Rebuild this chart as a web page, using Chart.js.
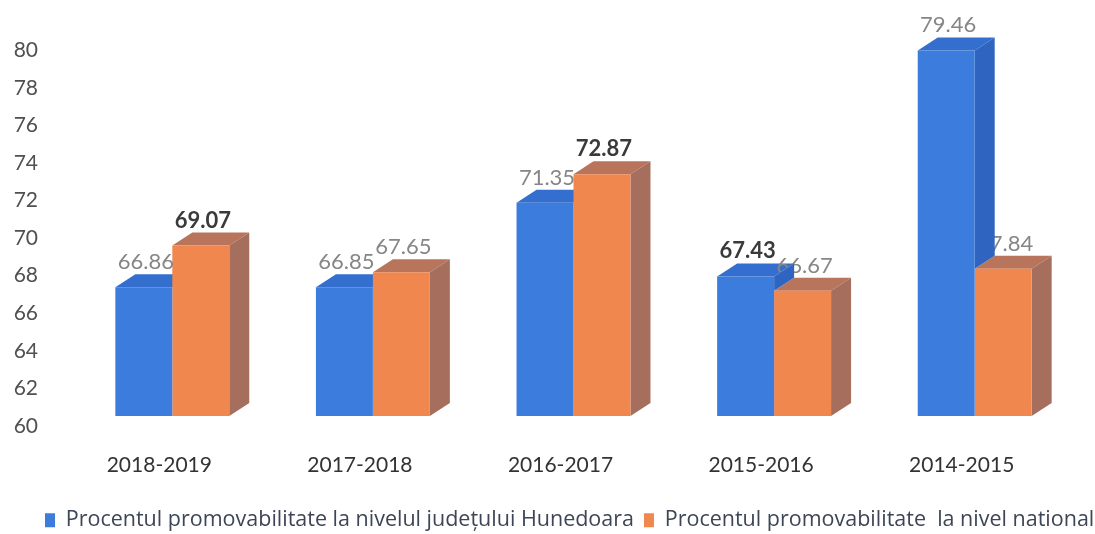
<!DOCTYPE html>
<html>
<head>
<meta charset="utf-8">
<script src="https://cdn.jsdelivr.net/npm/chart.js@4.4.1/dist/chart.umd.min.js"></script>
<style>
  html, body { margin: 0; padding: 0; background: #ffffff; }
  #wrap { width: 1095px; height: 534px; position: relative; }
</style>
</head>
<body>
<div id="wrap"><canvas id="c" width="1095" height="534"></canvas></div>
<script>
const categories = ['2018-2019', '2017-2018', '2016-2017', '2015-2016', '2014-2015'];
const judetValues = [66.86, 66.85, 71.35, 67.43, 79.46];
const nationalValues = [69.07, 67.65, 72.87, 66.67, 67.84];
const seriesNames = [
  'Procentul promovabilitate la nivelul județului Hunedoara',
  'Procentul promovabilitate  la nivel national'
];
const yMin = 60;
const yMax = 80;
const yStep = 2;

const FONT = 'Lato, "Open Sans", sans-serif';
const LEGEND_FONT = '"Open Sans", Lato, sans-serif';
const LEGEND_PAD = 10;
const DEPTH_X = 20, DEPTH_Y = 13;
const faceColors = [
  { front: '#3b7cdc', top: '#346fcf', side: '#2f64c0' },
  { front: '#f0874f', top: '#b9745c', side: '#a66f5d' }
];
const boldLabels = [[false, false, false, true, false], [true, false, true, false, false]];

function barGeom(el) {
  const { x, y, width } = el.getProps(['x', 'y', 'width'], true);
  return { l: x - width / 2, r: x + width / 2, x, y };
}
function poly(ctx, pts, color) {
  ctx.fillStyle = color;
  ctx.beginPath();
  ctx.moveTo(pts[0][0], pts[0][1]);
  for (let k = 1; k < pts.length; k++) ctx.lineTo(pts[k][0], pts[k][1]);
  ctx.closePath();
  ctx.fill();
}
function drawLabel(ctx, chart, d, i) {
  const el = chart.getDatasetMeta(d).data[i];
  const { x, y } = el.getProps(['x', 'y'], true);
  const bold = boldLabels[d][i];
  ctx.font = (bold ? 'bold ' : '') + '22px ' + FONT;
  ctx.fillStyle = bold ? '#3a3a3a' : '#868686';
  ctx.textAlign = 'center';
  ctx.textBaseline = 'alphabetic';
  ctx.fillText(chart.data.datasets[d].data[i].toFixed(2), x + 2, y - DEPTH_Y - 5);
}

const bars3d = {
  id: 'bars3d',
  afterLayout(chart) {
    if (chart.legend) {
      const w = chart.legend.width;
      chart.legend.left = 45 - LEGEND_PAD;
      chart.legend.right = chart.legend.left + w;
    }
  },
  beforeDatasetsDraw(chart) {
    const ctx = chart.ctx;
    const bottom = chart.chartArea.bottom;
    const m0 = chart.getDatasetMeta(0), m1 = chart.getDatasetMeta(1);
    ctx.save();
    for (let i = 0; i < categories.length; i++) {
      const b = barGeom(m0.data[i]);
      const o = barGeom(m1.data[i]);
      poly(ctx, [[b.l, b.y], [b.r, b.y], [b.r + DEPTH_X, b.y - DEPTH_Y], [b.l + DEPTH_X, b.y - DEPTH_Y]], faceColors[0].top);
      poly(ctx, [[o.l, o.y], [o.r, o.y], [o.r + DEPTH_X, o.y - DEPTH_Y], [o.l + DEPTH_X, o.y - DEPTH_Y]], faceColors[1].top);
      poly(ctx, [[o.r, o.y], [o.r + DEPTH_X, o.y - DEPTH_Y], [o.r + DEPTH_X, bottom - DEPTH_Y], [o.r, bottom]], faceColors[1].side);
      drawLabel(ctx, chart, 1, i);
      if (b.y < o.y) {
        poly(ctx, [[b.r, b.y], [b.r + DEPTH_X, b.y - DEPTH_Y], [b.r + DEPTH_X, o.y - DEPTH_Y], [b.r, o.y]], faceColors[0].side);
      }
    }
    ctx.restore();
  },
  afterDatasetsDraw(chart) {
    const ctx = chart.ctx;
    ctx.save();
    for (let i = 0; i < categories.length; i++) drawLabel(ctx, chart, 0, i);
    ctx.restore();
  }
};

new Chart(document.getElementById('c'), {
  type: 'bar',
  data: {
    labels: categories,
    datasets: [
      { label: seriesNames[0], data: judetValues, backgroundColor: faceColors[0].front, borderWidth: 0 },
      { label: seriesNames[1], data: nationalValues, backgroundColor: faceColors[1].front, borderWidth: 0 }
    ]
  },
  options: {
    responsive: false,
    animation: false,
    events: [],
    layout: { padding: { left: 0, right: 20, top: 34, bottom: -7 } },
    datasets: { bar: { categoryPercentage: 0.568, barPercentage: 1.0 } },
    plugins: {
      tooltip: { enabled: false },
      legend: {
        position: 'bottom',
        align: 'start',
        labels: {
          boxWidth: 10,
          boxHeight: 14,
          padding: LEGEND_PAD,
          color: '#3d4656',
          font: { family: LEGEND_FONT, size: 21.5 }
        }
      }
    },
    scales: {
      x: {
        grid: { display: false, drawTicks: false },
        border: { display: false },
        ticks: { color: '#333333', font: { family: FONT, size: 21 }, padding: 37, labelOffset: -13 },
        afterFit(s) { s.height = 83.5; }
      },
      y: {
        min: yMin,
        max: yMax,
        grid: { display: false, drawTicks: false },
        border: { display: false },
        ticks: { stepSize: yStep, color: '#505050', font: { family: FONT, size: 21, lineHeight: 0.6 }, padding: 34, labelOffset: 10 },
        afterFit(s) { s.width = 72; }
      }
    }
  },
  plugins: [bars3d]
});
</script>
</body>
</html>
